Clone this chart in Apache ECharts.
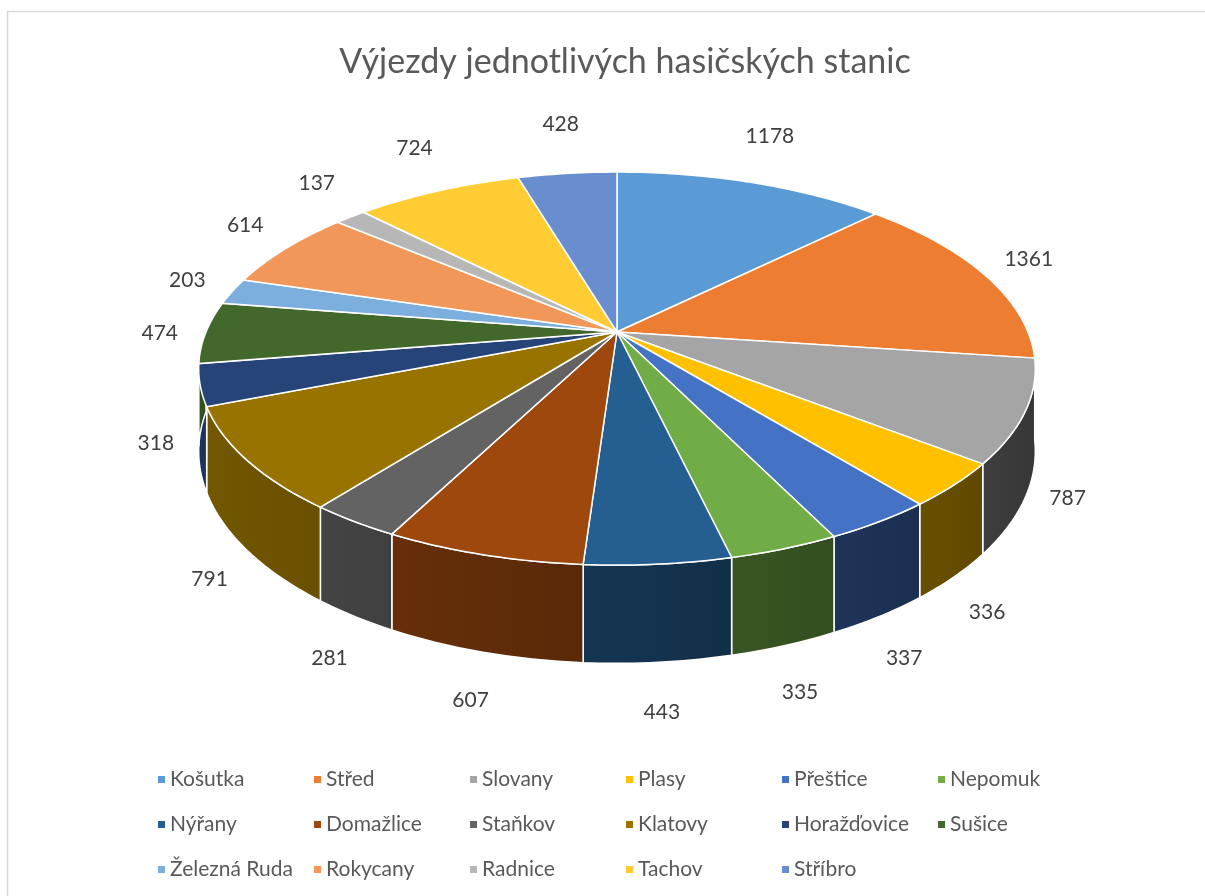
<!DOCTYPE html>
<html>
<head>
  <meta charset="UTF-8">
  <style>
    html, body { margin: 0; padding: 0; background: #fff; }
  </style>
  <script src="https://cdn.jsdelivr.net/npm/echarts@6/dist/echarts.min.js"></script>
</head>
<body>
  <div id="chart" style="width: 1205px; height: 896px;"></div>
  <script>
    const stations = ['Košutka', 'Střed', 'Slovany', 'Plasy', 'Přeštice', 'Nepomuk',
                      'Nýřany', 'Domažlice', 'Staňkov', 'Klatovy', 'Horažďovice', 'Sušice',
                      'Železná Ruda', 'Rokycany', 'Radnice', 'Tachov', 'Stříbro']
    const trips = [1178, 1361, 787, 336, 337, 335, 443, 607, 281, 791, 318, 474, 203, 614, 137, 724, 428]
    const colors = ['#5B9BD5', '#ED7D31', '#A5A5A5', '#FFC000', '#4472C4', '#70AD47',
                    '#255E91', '#9E480E', '#636363', '#997300', '#264478', '#43682B',
                    '#7CAFDD', '#F1975A', '#B7B7B7', '#FFCD33', '#698ED0']

    // fake 3d pie: tilted disc with a bit of perspective
    const CX = 617, CY = 332, R = 411, A = 189.7, K = 0.186, H = 80
    const total = trips.reduce((s, v) => s + v, 0)

    function proj (t, r) {
      const u = r * Math.sin(t), v = -r * Math.cos(t)
      const w = 1 - K * v
      return [CX + R * u / w, CY + A * v / w, w]
    }

    function shade (hex, f) {
      const n = parseInt(hex.slice(1), 16)
      const r = Math.round(((n >> 16) & 255) * f)
      const g = Math.round(((n >> 8) & 255) * f)
      const b = Math.round((n & 255) * f)
      return 'rgb(' + r + ',' + g + ',' + b + ')'
    }
    const light = t => 0.55 - 0.22 * Math.sin(t)

    function arc (a, b) {
      const n = Math.max(2, Math.ceil((b - a) / (Math.PI / 180)))
      const pts = []
      for (let k = 0; k <= n; k++) pts.push(proj(a + (b - a) * k / n, 1))
      return pts
    }

    function renderItem (params, api) {
      const i = params.dataIndex
      let before = 0
      for (let k = 0; k < i; k++) before += trips[k]
      const val = api.value(0)
      const a0 = before / total * Math.PI * 2
      const a1 = (before + val) / total * Math.PI * 2
      const color = colors[i]
      const children = []

      // top face
      const top = [[CX, CY]].concat(arc(a0, a1).map(p => [p[0], p[1]]))
      children.push({
        type: 'polygon', z2: 5,
        shape: { points: top },
        style: { fill: color, stroke: '#fff', lineWidth: 1.5 }
      })

      // front side wall
      const s0 = Math.max(a0, Math.PI / 2), s1 = Math.min(a1, Math.PI * 1.5)
      if (s1 > s0) {
        const rim = arc(s0, s1)
        const pts = rim.map(p => [p[0], p[1]])
        for (let k = rim.length - 1; k >= 0; k--) pts.push([rim[k][0], rim[k][1] + H / rim[k][2]])
        children.push({
          type: 'polygon', z2: 1,
          shape: { points: pts },
          style: {
            fill: new echarts.graphic.LinearGradient(0, 0, 1, 0, [
              { offset: 0, color: shade(color, light(s1)) },
              { offset: 1, color: shade(color, light(s0)) }
            ]),
            stroke: '#fff', lineWidth: 1.5
          }
        })
      }

      // value label
      const m = (a0 + a1) / 2
      const p = proj(m, 1)
      const u = Math.sin(m), v = -Math.cos(m)
      const drop = H / p[2] * Math.min(1, Math.max(0, v * 2))
      children.push({
        type: 'text', z2: 10,
        style: {
          text: String(val),
          x: p[0] + u * 46,
          y: p[1] + drop + v * 50,
          align: 'center', verticalAlign: 'middle',
          fill: '#404040', fontSize: 21, fontFamily: 'Lato'
        }
      })
      return { type: 'group', children: children }
    }

    const myChart = echarts.init(document.getElementById('chart'))
    const option = {
      animation: false,
      graphic: [{
        type: 'rect', silent: true,
        shape: { x: 7.5, y: 11.5, width: 1400, height: 1000 },
        style: { fill: 'none', stroke: '#d9d9d9', lineWidth: 1.5 }
      }],
      title: {
        text: 'Výjezdy jednotlivých hasičských stanic',
        left: 620, top: 40, textAlign: 'center',
        textStyle: { color: '#595959', fontSize: 34, fontWeight: 'normal', fontFamily: 'Lato' }
      },
      legend: {
        data: stations,
        left: 153, top: 752, width: 945,
        icon: 'rect', itemWidth: 7, itemHeight: 7, itemGap: 0,
        textStyle: { color: '#595959', fontSize: 21, fontFamily: 'Lato', width: 144, lineHeight: 45 }
      },
      series: [
        {
          type: 'custom',
          coordinateSystem: 'none',
          renderItem: renderItem,
          data: trips.map((v, i) => ({ name: stations[i], value: v }))
        },
        {
          // only feeds the legend
          type: 'pie', silent: true,
          radius: [0, 0], center: [CX, CY],
          label: { show: false }, labelLine: { show: false },
          data: trips.map((v, i) => ({ name: stations[i], value: v, itemStyle: { color: colors[i] } }))
        }
      ]
    }
    myChart.setOption(option)
  </script>
</body>
</html>
